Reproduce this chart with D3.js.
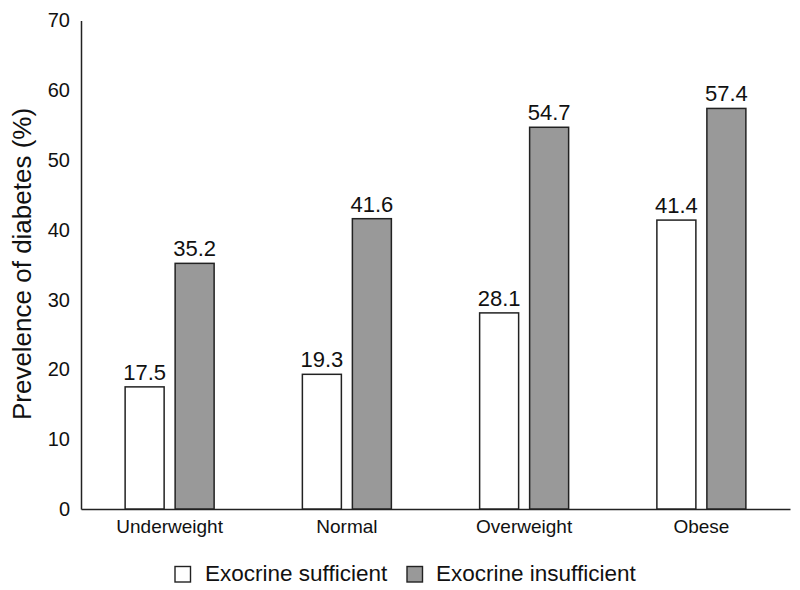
<!DOCTYPE html>
<html><head><meta charset="utf-8">
<script src="https://cdn.jsdelivr.net/npm/d3@7"></script>
<style>body{margin:0;background:#fff}</style>
</head><body><svg id="c" width="800" height="590"></svg>
<script>
const categories = ["Underweight","Normal","Overweight","Obese"];
const seriesNames = ["Exocrine sufficient","Exocrine insufficient"];
const sufficient = [17.5, 19.3, 28.1, 41.4];
const insufficient = [35.2, 41.6, 54.7, 57.4];
const yTicks = [0,10,20,30,40,50,60,70];
const colors = ["#ffffff","#999999"];
const font = "Liberation Sans, Arial, Helvetica, sans-serif";

const svg = d3.select("#c");
const x = d3.scaleBand().domain(categories).range([81, 790]);
const y = d3.scaleLinear().domain([0,70]).range([509, 20.5]);
const sub = d3.scaleOrdinal().domain(seriesNames).range([-44.5, 5.5]);
const bw = 39;

// y axis
const ya = svg.append("g").attr("transform","translate(81,0)")
  .call(d3.axisLeft(y).tickValues(yTicks).tickSize(0).tickPadding(11));
ya.select(".domain").attr("stroke","#222").attr("stroke-width",1.5);
ya.selectAll("text").attr("font-family",font).attr("font-size",20).attr("fill","#111");

// x axis
const xa = svg.append("g").attr("transform","translate(0,509)")
  .call(d3.axisBottom(x).tickSize(0).tickPadding(11));
xa.select(".domain").attr("stroke","#222").attr("stroke-width",1.5);
xa.selectAll("text").attr("font-family",font).attr("font-size",19).attr("fill","#111");

const data = [];
categories.forEach((c,i)=>{
  data.push({c, s:seriesNames[0], v:sufficient[i], col:colors[0]});
  data.push({c, s:seriesNames[1], v:insufficient[i], col:colors[1]});
});

svg.append("g").selectAll("rect").data(data).join("rect")
  .attr("x", d=> x(d.c)+x.bandwidth()/2 + sub(d.s))
  .attr("y", d=> y(d.v))
  .attr("width", bw)
  .attr("height", d=> y(0)-y(d.v))
  .attr("fill", d=>d.col)
  .attr("stroke","#222").attr("stroke-width",1.5);

svg.append("g").selectAll("text").data(data).join("text")
  .attr("x", d=> x(d.c)+x.bandwidth()/2 + sub(d.s) + bw/2)
  .attr("y", d=> y(d.v)-7)
  .attr("text-anchor","middle")
  .attr("font-family",font).attr("font-size",22).attr("fill","#111")
  .text(d=> d.v.toFixed(1));

// y label
svg.append("text")
  .attr("transform","translate(31,264) rotate(-90)")
  .attr("text-anchor","middle")
  .attr("font-family",font).attr("font-size",26).attr("fill","#111")
  .text("Prevelence of diabetes (%)");

// legend
const leg = [{x:175, tx:205}, {x:407, tx:436}];
seriesNames.forEach((n,i)=>{
  svg.append("rect").attr("x",leg[i].x).attr("y",566.5).attr("width",15.5).attr("height",15.5)
    .attr("fill",colors[i]).attr("stroke","#222").attr("stroke-width",1.4);
  svg.append("text").attr("x",leg[i].tx).attr("y",581)
    .attr("font-family",font).attr("font-size",22.5).attr("fill","#111").text(n);
});
</script></body></html>
